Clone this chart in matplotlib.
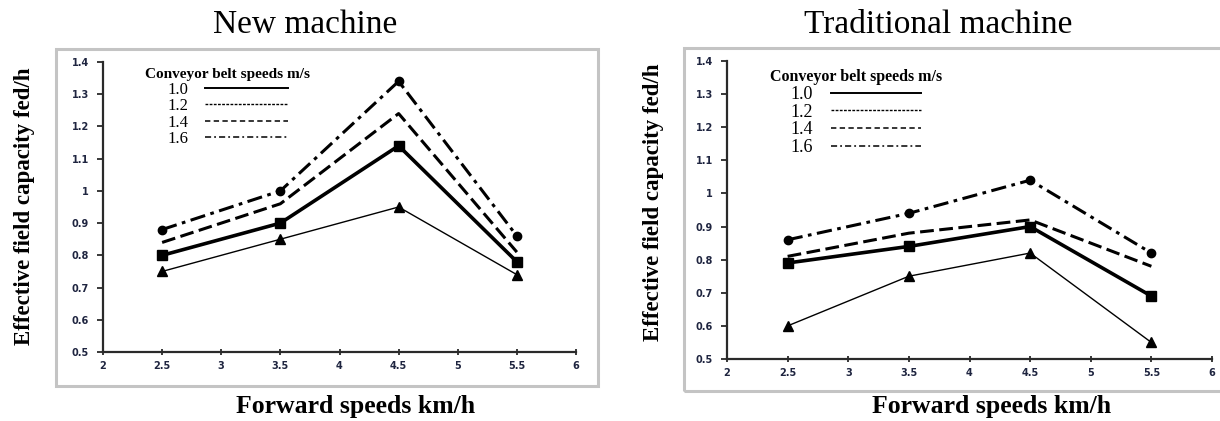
import matplotlib
matplotlib.use('Agg')
from matplotlib import pyplot as plt
from matplotlib.lines import Line2D
from matplotlib.patches import Rectangle

# forward speeds (km/h) and conveyor belt speeds (m/s)
speeds = [2.5, 3.5, 4.5, 5.5]
belts = ['1.0', '1.2', '1.4', '1.6']

# effective field capacity (fed/h), new machine
new_10 = [0.75, 0.85, 0.95, 0.74]
new_12 = [0.80, 0.90, 1.14, 0.78]
new_14 = [0.84, 0.96, 1.24, 0.81]
new_16 = [0.88, 1.00, 1.34, 0.86]

# effective field capacity (fed/h), traditional machine
trad_10 = [0.60, 0.75, 0.82, 0.55]
trad_12 = [0.79, 0.84, 0.90, 0.69]
trad_14 = [0.81, 0.88, 0.92, 0.78]
trad_16 = [0.86, 0.94, 1.04, 0.82]

xticks = [2, 2.5, 3, 3.5, 4, 4.5, 5, 5.5, 6]
xtick_labels = ['2', '2.5', '3', '3.5', '4', '4.5', '5', '5.5', '6']
yticks = [0.5, 0.6, 0.7, 0.8, 0.9, 1.0, 1.1, 1.2, 1.3, 1.4]
ytick_labels = ['0.5', '0.6', '0.7', '0.8', '0.9', '1', '1.1', '1.2', '1.3', '1.4']

W, H = 1220, 421
serif = 'Liberation Serif'
tickcol = '#1f2540'

line_styles = [
    dict(color='black', lw=1.0, ls='-', marker='^', ms=7),
    dict(color='black', lw=2.6, ls='-', marker='s', ms=7),
    dict(color='black', lw=2.2, ls=(0, (4.5, 1.8)), marker=None),
    dict(color='black', lw=2.2, ls=(0, (5, 1.8, 1.2, 1.8)), marker='o', ms=6),
]
legend_styles = [
    dict(color='black', lw=1.4, ls='-'),
    dict(color='black', lw=1.0, ls=(0, (2, 1))),
    dict(color='black', lw=1.1, ls=(0, (3.5, 2.2))),
    dict(color='black', lw=1.1, ls=(0, (4, 2, 1.2, 2))),
]


def fx(px):
    return px / W


def fy(py):
    return 1 - py / H


def panel(fig, rect_px, frame_px, series, title, title_xy, ylab_xy, xlab_xy,
          leg_anchor, leg_fs, leg_title_fs, leg_space):
    x0, y0, x1, y1 = rect_px
    ax = fig.add_axes([fx(x0), fy(y1), fx(x1) - fx(x0), fy(y0) - fy(y1)])
    for vals, st in zip(series, line_styles):
        ax.plot(speeds, vals, **st)
    ax.set_xlim(2, 6)
    ax.set_ylim(0.5, 1.4)
    ax.set_xticks(xticks)
    ax.set_xticklabels(xtick_labels)
    ax.set_yticks(yticks)
    ax.set_yticklabels(ytick_labels)
    for s in ['top', 'right']:
        ax.spines[s].set_visible(False)
    for s in ['left', 'bottom']:
        ax.spines[s].set_linewidth(1.6)
        ax.spines[s].set_color('#2a2a2a')
    ax.tick_params(axis='y', direction='out', length=4, width=1.3, pad=6,
                   labelsize=7, labelcolor=tickcol, color='#2a2a2a')
    ax.tick_params(axis='x', direction='inout', length=5, width=1.3, pad=4,
                   labelsize=7, labelcolor=tickcol, color='#2a2a2a')
    for lab in ax.get_xticklabels() + ax.get_yticklabels():
        lab.set_fontweight('bold')

    handles = [Line2D([], [], **st) for st in legend_styles]
    leg = ax.legend(handles, belts, loc='upper left', bbox_to_anchor=leg_anchor,
                    frameon=False, markerfirst=False, handlelength=5,
                    handletextpad=1.0, labelspacing=leg_space, borderpad=0,
                    title='Conveyor belt speeds m/s',
                    prop={'family': serif, 'size': leg_fs})
    leg.get_title().set_fontfamily(serif)
    leg.get_title().set_fontweight('bold')
    leg.get_title().set_fontsize(leg_title_fs)

    fx0, fy0, fx1, fy1 = frame_px
    fig.patches.append(Rectangle((fx(fx0), fy(fy1)), fx(fx1) - fx(fx0),
                                 fy(fy0) - fy(fy1), transform=fig.transFigure,
                                 fill=False, ec='#c4c4c4', lw=2.2, zorder=0))
    fig.text(fx(title_xy[0]), fy(title_xy[1]), title, ha='center', va='center',
             family=serif, fontsize=24)
    fig.text(fx(ylab_xy[0]), fy(ylab_xy[1]), 'Effective field capacity fed/h',
             ha='center', va='center', rotation=90, family=serif,
             fontweight='bold', fontsize=16.5)
    fig.text(fx(xlab_xy[0]), fy(xlab_xy[1]), 'Forward speeds km/h',
             ha='center', va='center', family=serif, fontweight='bold',
             fontsize=18.5)
    return ax


fig = plt.figure(figsize=(W / 100, H / 100), dpi=100)

panel(fig, (103, 62, 576, 352), (56, 49, 598, 386),
      [new_10, new_12, new_14, new_16], 'New machine',
      (305, 25), (25, 206), (356, 406), (0.072, 1.007), 12, 11, 0.03)

panel(fig, (727, 61, 1212, 359), (684, 48, 1232, 391),
      [trad_10, trad_12, trad_14, trad_16], 'Traditional machine',
      (938, 25), (653, 202), (992, 406), (0.070, 1.003), 13, 11.5, 0.04)

fig.savefig('out.png', dpi=100)
